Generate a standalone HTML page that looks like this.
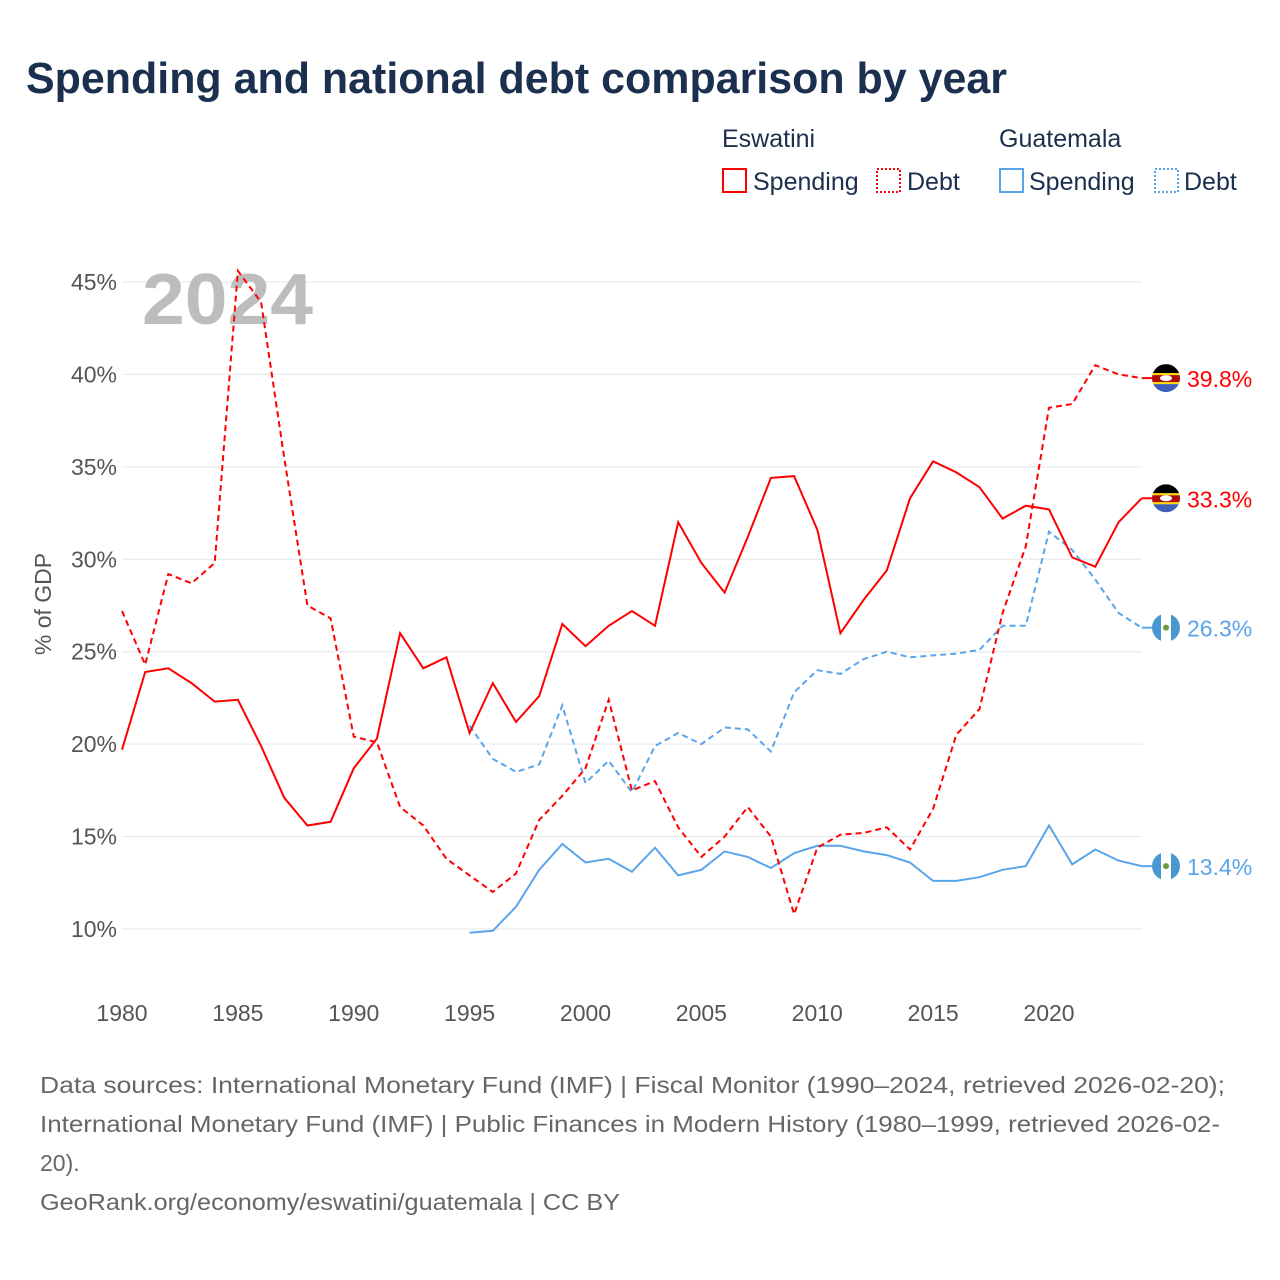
<!DOCTYPE html>
<html><head><meta charset="utf-8">
<style>
body{margin:0;background:#fff;font-family:"Liberation Sans",sans-serif;}
#wrap{position:relative;width:1280px;height:1280px;overflow:hidden;}
</style></head>
<body>
<div id="wrap">
<svg id="svg" width="1280" height="1280" xmlns="http://www.w3.org/2000/svg">
<text x="26" y="93" font-size="44" font-weight="bold" fill="#1b2f4e" textLength="981" lengthAdjust="spacingAndGlyphs">Spending and national debt comparison by year</text>
<g font-size="25" fill="#1b2f4e">
<text x="722" y="147">Eswatini</text>
<text x="999" y="147">Guatemala</text>
<rect x="723" y="169" width="23" height="23" fill="none" stroke="#ff0000" stroke-width="2"/>
<text x="753" y="190">Spending</text>
<rect x="877" y="169" width="23" height="23" fill="none" stroke="#ff0000" stroke-width="2" stroke-dasharray="2,2"/>
<text x="907" y="190">Debt</text>
<rect x="1000" y="169" width="23" height="23" fill="none" stroke="#5aa5ea" stroke-width="2"/>
<text x="1029" y="190">Spending</text>
<rect x="1155" y="169" width="23" height="23" fill="none" stroke="#5aa5ea" stroke-width="2" stroke-dasharray="2,2"/>
<text x="1184" y="190">Debt</text>
</g>
<g id="grid"></g>
<text x="142" y="324" font-size="72" font-weight="bold" fill="#bdbdbd" textLength="171" lengthAdjust="spacingAndGlyphs">2024</text>
<text transform="translate(51,604) rotate(-90)" text-anchor="middle" font-size="23" fill="#555">% of GDP</text>
<g id="series"></g>
<g id="ends"></g>
<g font-size="23" fill="#666">
<text x="40" y="1093" textLength="1185" lengthAdjust="spacingAndGlyphs">Data sources: International Monetary Fund (IMF) | Fiscal Monitor (1990–2024, retrieved 2026-02-20);</text>
<text x="40" y="1132" textLength="1180" lengthAdjust="spacingAndGlyphs">International Monetary Fund (IMF) | Public Finances in Modern History (1980–1999, retrieved 2026-02-</text>
<text x="40" y="1171">20).</text>
<text x="40" y="1210" textLength="580" lengthAdjust="spacingAndGlyphs">GeoRank.org/economy/eswatini/guatemala | CC BY</text>
</g>
</svg>
</div>
<script>
const yTicks=[10,15,20,25,30,35,40,45];
const xTicks=[1980,1985,1990,1995,2000,2005,2010,2015,2020];
const eswSpendYears=[1980,1981,1982,1983,1984,1985,1986,1987,1988,1989,1990,1991,1992,1993,1994,1995,1996,1997,1998,1999,2000,2001,2002,2003,2004,2005,2006,2007,2008,2009,2010,2011,2012,2013,2014,2015,2016,2017,2018,2019,2020,2021,2022,2023,2024];
const eswSpending=[19.7,23.9,24.1,23.3,22.3,22.4,19.9,17.1,15.6,15.8,18.7,20.3,26.0,24.1,24.7,20.6,23.3,21.2,22.6,26.5,25.3,26.4,27.2,26.4,32.0,29.8,28.2,31.2,34.4,34.5,31.6,26.0,27.8,29.4,33.3,35.3,34.7,33.9,32.2,32.9,32.7,30.1,29.6,32.0,33.3];
const eswDebt=[27.2,24.3,29.2,28.7,29.8,45.6,43.9,35.5,27.5,26.8,20.4,20.1,16.6,15.6,13.8,12.9,12.0,13.0,15.9,17.2,18.7,22.4,17.5,18.0,15.5,13.9,15.0,16.6,15.0,10.8,14.4,15.1,15.2,15.5,14.3,16.5,20.5,21.9,27.1,30.7,38.2,38.4,40.5,40.0,39.8];
const gtmYears=[1995,1996,1997,1998,1999,2000,2001,2002,2003,2004,2005,2006,2007,2008,2009,2010,2011,2012,2013,2014,2015,2016,2017,2018,2019,2020,2021,2022,2023,2024];
const gtmSpending=[9.8,9.9,11.2,13.2,14.6,13.6,13.8,13.1,14.4,12.9,13.2,14.2,13.9,13.3,14.1,14.5,14.5,14.2,14.0,13.6,12.6,12.6,12.8,13.2,13.4,15.6,13.5,14.3,13.7,13.4];
const gtmDebt=[21.0,19.2,18.5,18.9,22.1,17.9,19.1,17.4,19.9,20.6,20.0,20.9,20.8,19.6,22.8,24.0,23.8,24.6,25.0,24.7,24.8,24.9,25.1,26.4,26.4,31.5,30.5,28.9,27.1,26.3];

const NS="http://www.w3.org/2000/svg";
const X=y=>122+(y-1980)*23.175;
const Y=v=>929-(v-10)*18.486;
function mk(t,a,p){const e=document.createElementNS(NS,t);for(const k in a)e.setAttribute(k,a[k]);p.appendChild(e);return e;}
const grid=document.getElementById('grid');
yTicks.forEach(v=>{
  const l=mk('line',{x1:122,x2:1142,y1:Y(v),y2:Y(v),stroke:'#e6e6e6','stroke-width':1},grid);
  
  
  const t=mk('text',{x:117,y:Y(v)+8,'text-anchor':'end','font-size':23,fill:'#555'},grid);
  t.textContent=v+'%';
  
  
});
xTicks.forEach(yr=>{
  const t=mk('text',{x:X(yr),y:1021,'text-anchor':'middle','font-size':23,fill:'#555'},grid);
  t.textContent=yr;
  
  
});
const ser=document.getElementById('series');
function line(years,vals,color,dash,name){
  const d=vals.map((v,i)=>(i?'L':'M')+X(years[i]).toFixed(1)+','+Y(v).toFixed(1)).join(' ');
  const p=mk('path',{d:d,fill:'none',stroke:color,'stroke-width':2,'stroke-dasharray':dash},ser);
  
  
}
line(gtmYears,gtmDebt,'#5aa5ea','6,4','line-guatemala-debt');
line(gtmYears,gtmSpending,'#5aa5ea','none','line-guatemala-spending');
line(eswSpendYears,eswDebt,'#ff0000','6,4','line-eswatini-debt');
line(eswSpendYears,eswSpending,'#ff0000','none','line-eswatini-spending');

const ends=document.getElementById('ends');
function endMark(v,color,flag,name){
  const y=Y(v),cx=1166,r=14;
  const g=mk('g',{},ends);
  
  
  mk('line',{x1:X(2024),x2:cx-r,y1:y,y2:y,stroke:color,'stroke-width':2},g);
  const id='c'+name;
  const cp=mk('clipPath',{id:id},g);mk('circle',{cx:cx,cy:y,r:r},cp);
  const fg=mk('g',{'clip-path':'url(#'+id+')'},g);
  if(flag==='sz'){
    mk('rect',{x:cx-r,y:y-r,width:2*r,height:9,fill:'#000'},fg);
    mk('rect',{x:cx-r,y:y-5,width:2*r,height:2,fill:'#ffd900'},fg);
    mk('rect',{x:cx-r,y:y-3,width:2*r,height:7,fill:'#b10c0c'},fg);
    mk('rect',{x:cx-r,y:y+4,width:2*r,height:2,fill:'#ffd900'},fg);
    mk('rect',{x:cx-r,y:y+6,width:2*r,height:8,fill:'#3e5eb9'},fg);
    mk('ellipse',{cx:cx,cy:y,rx:6,ry:3,fill:'#fff'},fg);
  } else {
    mk('rect',{x:cx-r,y:y-r,width:2*r,height:2*r,fill:'#fff'},fg);
    mk('rect',{x:cx-r,y:y-r,width:9,height:2*r,fill:'#4997d0'},fg);
    mk('rect',{x:cx+5,y:y-r,width:9,height:2*r,fill:'#4997d0'},fg);
    mk('circle',{cx:cx,cy:y,r:3,fill:'#6c9a3a'},fg);
  }
  const t=mk('text',{x:1187,y:y+9,'font-size':23,fill:color},g);
  t.textContent=v.toFixed(1)+'%';
}
endMark(eswDebt[eswDebt.length-1],'#ff0000','sz','end-label-eswatini-debt');
endMark(eswSpending[eswSpending.length-1],'#ff0000','sz','end-label-eswatini-spending');
endMark(gtmDebt[gtmDebt.length-1],'#5aa5ea','gt','end-label-guatemala-debt');
endMark(gtmSpending[gtmSpending.length-1],'#5aa5ea','gt','end-label-guatemala-spending');
</script>
</body></html>
